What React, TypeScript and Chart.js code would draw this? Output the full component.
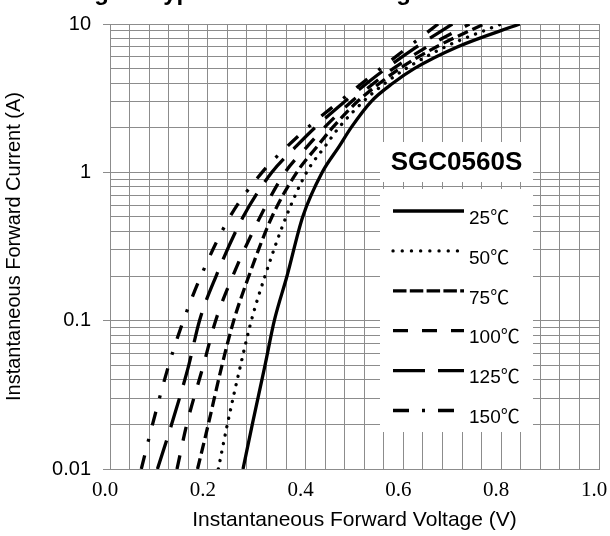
import React, { useEffect, useRef } from "react";
import { Chart, registerables } from "chart.js";

Chart.register(...registerables);

// ---- data ----
const currents = [0.01, 0.02, 0.05, 0.1, 0.2, 0.5, 1, 1.5, 2, 3, 4, 5, 7, 10];
const v25 = [0.272, 0.291, 0.317, 0.336, 0.362, 0.394, 0.434, 0.469, 0.493, 0.534, 0.579, 0.622, 0.71, 0.838];
const v50 = [0.2215, 0.24, 0.267, 0.289, 0.317, 0.36, 0.402, 0.44, 0.468, 0.518, 0.563, 0.605, 0.685, 0.8];
const v75 = [0.179, 0.201, 0.229, 0.253, 0.284, 0.331, 0.382, 0.424, 0.455, 0.506, 0.552, 0.592, 0.667, 0.765];
const v100 = [0.137, 0.157, 0.191, 0.216, 0.251, 0.307, 0.358, 0.404, 0.438, 0.494, 0.54, 0.579, 0.648, 0.735];
const v125 = [0.097, 0.126, 0.161, 0.183, 0.217, 0.272, 0.331, 0.381, 0.419, 0.48, 0.526, 0.564, 0.627, 0.7];
const v150 = [0.064, 0.087, 0.12, 0.15, 0.186, 0.245, 0.311, 0.363, 0.404, 0.469, 0.516, 0.553, 0.61, 0.671];

const seriesLabels = ["25℃", "50℃", "75℃", "100℃", "125℃", "150℃"];
const seriesVolts = [v25, v50, v75, v100, v125, v150];

const xTickValues = [0, 0.2, 0.4, 0.6, 0.8, 1.0];
const xTickLabels = ["0.0", "0.2", "0.4", "0.6", "0.8", "1.0"];
const yTickValues = [0.01, 0.1, 1, 10];
const yTickLabels = ["0.01", "0.1", "1", "10"];
const yMantissas = [1, 2, 3, 4, 5, 6, 7, 8, 9];
const yDecades = [0.01, 0.1, 1];

const partName = "SGC0560S";
const figTitle = "Fig.1 - Typical Forward Voltage Characteristics";
const xTitle = "Instantaneous Forward Voltage (V)";
const yTitle = "Instantaneous Forward Current (A)";

// ---- styles ----
const LINE_W = 3.3;
const GRID = "#8c8c8c";
const styles = [
  { dash: [] as number[], cap: "butt", legendDash: [] as number[] },
  { dash: [0.1, 8.5], cap: "round", legendDash: [0.1, 9.1] },
  { dash: [11, 5], cap: "butt", legendDash: [13.5, 3.3] },
  { dash: [14, 15], cap: "butt", legendDash: [15, 14] },
  { dash: [30, 14], cap: "butt", legendDash: [32, 13] },
  { dash: [14, 14, 3, 14], cap: "butt", legendDash: [16, 13, 3, 13] },
];

const near = (a: number, b: number) => Math.abs(a - b) <= Math.abs(b) * 1e-6 + 1e-9;

const overlayPlugin = {
  id: "overlay",
  afterDatasetsDraw(chart: any) {
    const ctx: CanvasRenderingContext2D = chart.ctx;
    ctx.save();
    // white boxes
    ctx.fillStyle = "#ffffff";
    ctx.fillRect(380, 142, 153, 40);
    ctx.fillRect(380, 189, 153, 243);
    // part name
    ctx.fillStyle = "#000";
    ctx.font = 'bold 26px "Liberation Sans", Arial, sans-serif';
    ctx.textAlign = "center";
    ctx.textBaseline = "middle";
    ctx.fillText(partName, 456.5, 163);
    // legend
    ctx.font = '19px "Liberation Sans", Arial, "Noto Sans CJK SC", sans-serif';
    ctx.textAlign = "left";
    chart.data.datasets.forEach((ds: any, i: number) => {
      const y = 211 + i * 39.9;
      const st = styles[i];
      ctx.beginPath();
      ctx.setLineDash(st.legendDash);
      ctx.lineCap = st.cap as CanvasLineCap;
      ctx.lineWidth = LINE_W;
      ctx.strokeStyle = "#000";
      ctx.moveTo(393, y);
      ctx.lineTo(i === 1 ? 458 : i === 5 ? 455 : 464, y);
      ctx.stroke();
      ctx.setLineDash([]);
      ctx.fillText(ds.label, 469, y + 7.5);
    });
    // cut-off figure title at the very top
    ctx.font = 'bold 24px "Liberation Sans", Arial, sans-serif';
    ctx.textAlign = "left";
    ctx.textBaseline = "alphabetic";
    ctx.fillText(figTitle, 73, 0);
    ctx.restore();
  },
};

export default function App() {
  const ref = useRef<HTMLCanvasElement>(null);
  useEffect(() => {
    Chart.defaults.font.family = '"Liberation Sans", Arial, sans-serif';
    Chart.defaults.color = "#000";
    const datasets = seriesVolts.map((vs, i) => ({
      label: seriesLabels[i],
      data: currents.map((c, k) => ({ x: vs[k], y: c })),
      showLine: true,
      borderColor: "#000",
      backgroundColor: "#000",
      borderWidth: LINE_W,
      borderDash: styles[i].dash,
      borderCapStyle: styles[i].cap,
      pointRadius: 0,
      cubicInterpolationMode: "monotone",
      clip: 0,
    }));
    const chart = new Chart(ref.current!, {
      type: "scatter",
      data: { datasets } as any,
      plugins: [overlayPlugin],
      options: {
        animation: false,
        responsive: false,
        layout: { padding: { top: 21, right: 11, left: 0, bottom: 0 } },
        plugins: { legend: { display: false }, tooltip: { enabled: false }, title: { display: false } },
        scales: {
          x: {
            type: "linear",
            min: 0,
            max: 1,
            afterBuildTicks: (scale: any) => {
              scale.ticks = Array.from({ length: 26 }, (_, j) => ({ value: (j * 4) / 100 }));
            },
            afterFit: (scale: any) => {
              scale.height = 67;
              scale.paddingLeft = 0;
              scale.paddingRight = 0;
            },
            ticks: {
              autoSkip: false,
              maxRotation: 0,
              padding: 9,
              labelOffset: -5,
              font: { family: '"Liberation Serif", serif', size: 21 },
              callback: (v: any) => {
                const i = xTickValues.findIndex((t) => near(Number(v), t));
                return i >= 0 ? xTickLabels[i] : "";
              },
            },
            grid: { color: GRID, lineWidth: 1, drawTicks: false },
            border: { color: GRID, width: 1 },
            title: { display: true, text: xTitle, font: { size: 21 }, padding: { top: 0, bottom: 3 } },
          },
          y: {
            type: "logarithmic",
            min: 0.01,
            max: 10,
            afterBuildTicks: (scale: any) => {
              const t: any[] = [];
              yDecades.forEach((d) => yMantissas.forEach((m) => t.push({ value: Number((d * m).toPrecision(3)) })));
              t.push({ value: 10 });
              scale.ticks = t;
            },
            afterFit: (scale: any) => {
              scale.width = 110;
            },
            ticks: {
              autoSkip: false,
              padding: 12,
              font: { size: 20 },
              callback: (v: any) => {
                const i = yTickValues.findIndex((t) => near(Number(v), t));
                return i >= 0 ? yTickLabels[i] : "";
              },
            },
            grid: {
              color: GRID,
              lineWidth: 1,
              drawTicks: true,
              tickLength: 7,
              tickColor: (c: any) =>
                c.tick && yTickValues.some((t) => near(c.tick.value, t)) ? GRID : "rgba(0,0,0,0)",
            },
            border: { color: GRID, width: 1 },
            title: { display: true, text: yTitle, font: { size: 20 }, padding: { top: 2, bottom: 0 } },
          },
        },
      } as any,
    });
    return () => chart.destroy();
  }, []);
  return (
    <div style={{ position: "absolute", left: 0, top: 0, width: 610, height: 536, background: "#fff" }}>
      <canvas ref={ref} width={610} height={536} style={{ display: "block", width: 610, height: 536 }} />
    </div>
  );
}
